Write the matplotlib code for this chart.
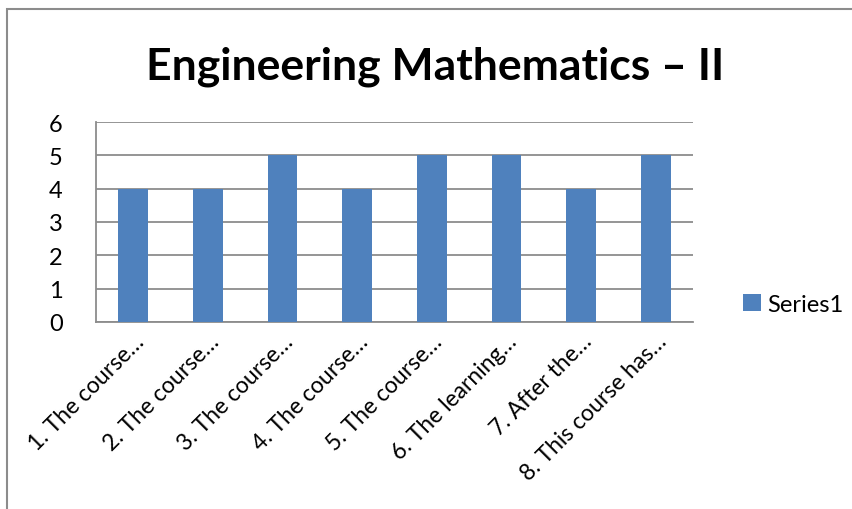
import matplotlib
matplotlib.use("Agg")
import matplotlib.pyplot as plt
from matplotlib.patches import Rectangle

plt.rcParams['font.family'] = ['Lato', 'DejaVu Sans']

# data
categories = ["1. The course\u2026", "2. The course\u2026", "3. The course\u2026",
              "4. The course\u2026", "5. The course\u2026", "6. The learning\u2026",
              "7. After the\u2026", "8. This course has\u2026"]
series1 = [4, 4, 5, 4, 5, 5, 4, 5]

bar_color = '#4F81BD'
grid_color = '#8C8C8C'

fig = plt.figure(figsize=(8.53, 5.10), dpi=100)
W, H = 853, 510

# outer chart border (cut off at right/bottom like the screenshot)
fig.patches.append(Rectangle((7 / W, -0.1), 1.2, (H - 10) / H + 0.1,
                             transform=fig.transFigure, fill=False,
                             edgecolor='#8C8C8C', linewidth=1.5))

ax = fig.add_axes([96 / W, 1 - 323 / H, (693 - 96) / W, 200 / H])
x = range(len(categories))
ax.bar(x, series1, width=0.4, color=bar_color, zorder=3, label='Series1')

ax.set_xlim(-0.5, len(categories) - 0.5)
ax.set_ylim(0, 6)
ax.set_yticks(range(0, 7))
ax.yaxis.grid(True, color=grid_color, linewidth=1.3, zorder=0)
ax.tick_params(axis='y', length=0, labelsize=17, pad=24)
ax.tick_params(axis='x', length=0, labelsize=16.5, pad=6)
ax.set_xticks(list(x))
ax.set_xticklabels(categories, rotation=45, ha='right', rotation_mode='anchor')

for s in ['top', 'right']:
    ax.spines[s].set_visible(False)
for s in ['left', 'bottom']:
    ax.spines[s].set_color(grid_color)
    ax.spines[s].set_linewidth(1.3)

fig.text(435 / W, 1 - 67 / H, "Engineering Mathematics \u2013 II",
         ha='center', va='center', fontsize=32, fontweight='bold')

leg = fig.legend(loc='center left', bbox_to_anchor=(731 / W, 1 - 305 / H),
                 frameon=False, fontsize=17, handlelength=0.75,
                 handleheight=0.75, handletextpad=0.3, borderpad=0)

fig.savefig('out.png', dpi=100)
